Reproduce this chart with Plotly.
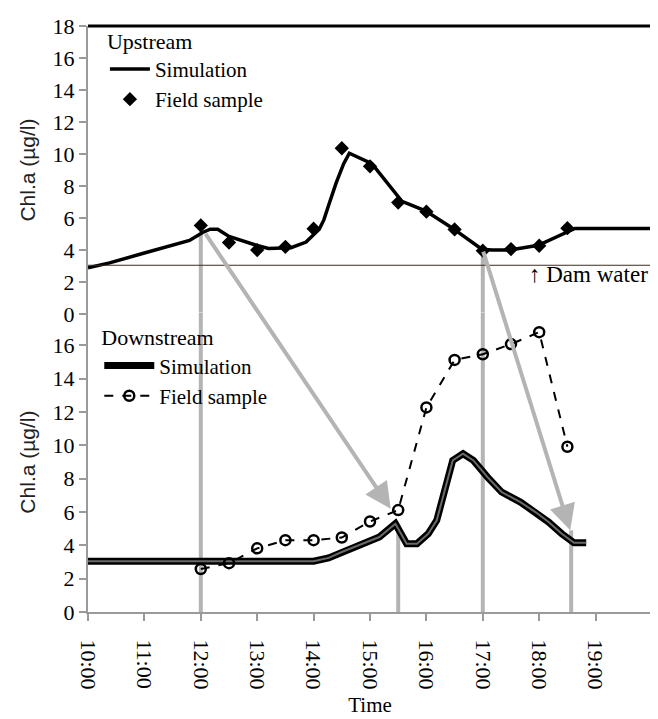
import plotly.graph_objects as go

# ---------------- data ----------------
up_sim_t = ["10:00", "10:23", "10:59", "11:23", "11:48", "12:02", "12:10", "12:18", "12:30",
            "12:59", "13:12", "13:36", "13:52", "14:06", "14:11", "14:16", "14:24", "14:32",
            "14:38", "15:02", "15:34", "15:59", "16:27", "16:59", "17:10", "17:29", "17:59",
            "18:38", "20:00"]
up_sim_v = [2.9, 3.2, 3.8, 4.2, 4.6, 5.1, 5.3, 5.3, 4.85,
            4.3, 4.1, 4.15, 4.5, 5.3, 5.9, 6.8, 8.2, 9.4,
            10.05, 9.4, 7.05, 6.45, 5.4, 4.05, 4.0, 4.0, 4.3,
            5.35, 5.35]

field_t = ["12:00", "12:30", "13:00", "13:30", "14:00", "14:30", "15:00", "15:30",
           "16:00", "16:30", "17:00", "17:30", "18:00", "18:30"]
up_field_v = [5.54, 4.47, 4.0, 4.2, 5.33, 10.36, 9.23, 6.97, 6.4, 5.29, 3.96, 4.06, 4.27, 5.37]
down_field_v = [2.58, 2.93, 3.82, 4.31, 4.31, 4.47, 5.43, 6.12, 12.28, 15.13, 15.47, 16.08, 16.8, 9.92]

down_sim_t = ["10:00", "14:00", "14:16", "14:30", "14:52", "15:02", "15:10", "15:27", "15:33",
              "15:39", "15:50", "16:02", "16:11", "16:20", "16:28", "16:39", "16:50", "17:05",
              "17:20", "17:40", "17:56", "18:10", "18:24", "18:37", "18:50"]
down_sim_v = [3.05, 3.05, 3.25, 3.6, 4.1, 4.3, 4.5, 5.3, 4.7,
              4.1, 4.1, 4.7, 5.5, 7.4, 9.1, 9.5, 9.1, 8.1,
              7.2, 6.6, 6.0, 5.4, 4.7, 4.15, 4.15]

dam_water = 3.05
tick_labels = ["10:00", "11:00", "12:00", "13:00", "14:00", "15:00", "16:00", "17:00", "18:00", "19:00"]

# guide lines (time, value where the line starts) and arrows (tail upstream -> head downstream)
up_guides = [("12:00", 5.3), ("17:00", 4.0)]
down_guides = [("15:30", 5.3), ("18:34", 4.9)]
arrows = [(("12:04", 5.1), ("15:22", 6.2)), (("17:00", 4.0), ("18:33", 4.9))]


def hrs(t):
    h, m = t.split(":")
    return int(h) + int(m) / 60.0


SERIF = "Liberation Serif"
SANS = "Liberation Sans"
GRAY = "#b4b4b4"
AXGRAY = "#9a9a9a"

top_dom = [0.5084, 1.0]
bot_dom = [0.0, 0.5117]

fig = go.Figure()

# upstream
fig.add_trace(go.Scatter(x=[hrs(t) for t in up_sim_t], y=up_sim_v, mode="lines",
                         line=dict(color="black", width=3.5), name="Simulation",
                         xaxis="x", yaxis="y", legend="legend"))
fig.add_trace(go.Scatter(x=[hrs(t) for t in field_t], y=up_field_v, mode="markers",
                         marker=dict(symbol="diamond", size=11, color="black"),
                         name="Field sample", xaxis="x", yaxis="y", legend="legend"))

# downstream
fig.add_trace(go.Scatter(x=[hrs(t) for t in down_sim_t], y=down_sim_v, mode="lines",
                         line=dict(color="black", width=7), name="Simulation",
                         xaxis="x2", yaxis="y2", legend="legend2"))
fig.add_trace(go.Scatter(x=[hrs(t) for t in down_sim_t], y=down_sim_v, mode="lines",
                         line=dict(color="#6a6a6a", width=2), showlegend=False,
                         xaxis="x2", yaxis="y2", hoverinfo="skip"))
fig.add_trace(go.Scatter(x=[hrs(t) for t in field_t], y=down_field_v, mode="lines+markers",
                         line=dict(color="black", width=2, dash="dash"),
                         marker=dict(symbol="circle-open", size=10, color="black",
                                     line=dict(width=2.5)),
                         name="Field sample", xaxis="x2", yaxis="y2", legend="legend2"))

shapes = []
for t, v in up_guides:
    shapes.append(dict(type="line", xref="x", yref="y", x0=hrs(t), x1=hrs(t), y0=v, y1=0,
                       line=dict(color=GRAY, width=4), layer="below"))
    shapes.append(dict(type="line", xref="x2", yref="y2", x0=hrs(t), x1=hrs(t), y0=18, y1=0,
                       line=dict(color=GRAY, width=4), layer="below"))
for t, v in down_guides:
    shapes.append(dict(type="line", xref="x2", yref="y2", x0=hrs(t), x1=hrs(t), y0=v, y1=0,
                       line=dict(color=GRAY, width=4), layer="below"))
# dam water level
shapes.append(dict(type="line", xref="x domain", yref="y", x0=0, x1=1, y0=dam_water, y1=dam_water,
                   line=dict(color="#3a2c24", width=1)))
# frame: top and right borders
shapes.append(dict(type="line", xref="paper", yref="paper", x0=0, x1=1, y0=1, y1=1,
                   line=dict(color="black", width=3)))
shapes.append(dict(type="line", xref="paper", yref="paper", x0=1, x1=1, y0=0, y1=1,
                   line=dict(color="black", width=3)))

# convert an upstream value into downstream axis units (for arrow tails)
scale = (top_dom[1] - top_dom[0]) / (bot_dom[1] - bot_dom[0])
top_offset = 18 * (top_dom[0] - bot_dom[0]) / (bot_dom[1] - bot_dom[0])

annotations = []
for (tt, tv), (ht, hv) in arrows:
    annotations.append(dict(x=hrs(ht), y=hv, xref="x2", yref="y2",
                            ax=hrs(tt), ay=top_offset + tv * scale, axref="x2", ayref="y2",
                            text="", showarrow=True, arrowhead=2, arrowsize=1.3,
                            arrowwidth=4, arrowcolor=GRAY, standoff=0))
annotations.append(dict(x=0.997, y=2.45, xref="x domain", yref="y", xanchor="right", yanchor="middle",
                        text="↑ Dam water", showarrow=False,
                        font=dict(family=SERIF, size=23, color="black")))

tick_font = dict(family=SERIF, size=22, color="black")
xcommon = dict(range=[10, 20], tickmode="array", tickvals=[hrs(t) for t in tick_labels],
               ticktext=tick_labels, ticks="outside", ticklen=7, tickwidth=2, tickcolor=AXGRAY,
               showgrid=False, zeroline=False)

# the page adds an 8px body margin; the figure is sized/offset to compensate
fig.update_layout(
    width=650, height=711,
    margin=dict(l=80, r=6, t=9, b=106),
    plot_bgcolor="white", paper_bgcolor="white",
    xaxis=dict(**xcommon, anchor="y", showticklabels=False, showline=True,
               linecolor="black", linewidth=3),
    xaxis2=dict(**xcommon, anchor="y2", showticklabels=True, tickangle=90,
                tickfont=tick_font, showline=True, linecolor=AXGRAY, linewidth=2,
                ticklabelstandoff=14,
                title=dict(text="Time", font=dict(family=SERIF, size=21, color="black"),
                           standoff=9)),
    yaxis=dict(domain=top_dom, range=[0, 18], tickvals=list(range(0, 19, 2)), anchor="x",
               ticks="outside", ticklen=7, tickwidth=2, tickcolor=AXGRAY, showline=True,
               linecolor=AXGRAY, linewidth=2, showgrid=False, zeroline=False,
               tickfont=tick_font, ticklabeloverflow="allow",
               title=dict(text="Chl.a (µg/l)", font=dict(family=SANS, size=21, color="#222"),
                          standoff=11)),
    yaxis2=dict(domain=bot_dom, range=[0, 18], tickvals=list(range(0, 17, 2)), anchor="x2",
                ticks="outside", ticklen=7, tickwidth=2, tickcolor=AXGRAY, showline=True,
                linecolor=AXGRAY, linewidth=2, showgrid=False, zeroline=False,
                tickfont=tick_font, ticklabeloverflow="allow",
                title=dict(text="Chl.a (µg/l)", font=dict(family=SANS, size=21, color="#222"),
                           standoff=11)),
    legend=dict(x=0.03, y=1.01, xanchor="left", yanchor="top", bgcolor="rgba(0,0,0,0)",
                title=dict(text="Upstream", font=dict(family=SERIF, size=22, color="black")),
                font=dict(family=SERIF, size=21, color="black"), itemwidth=40,
                tracegroupgap=0),
    legend2=dict(x=0.02, y=0.504, xanchor="left", yanchor="top", bgcolor="rgba(0,0,0,0)",
                 title=dict(text="Downstream", font=dict(family=SERIF, size=22, color="black")),
                 font=dict(family=SERIF, size=21, color="black"), itemwidth=50,
                 tracegroupgap=0),
    shapes=shapes,
    annotations=annotations,
    showlegend=True,
)

fig.write_html("out.html")
